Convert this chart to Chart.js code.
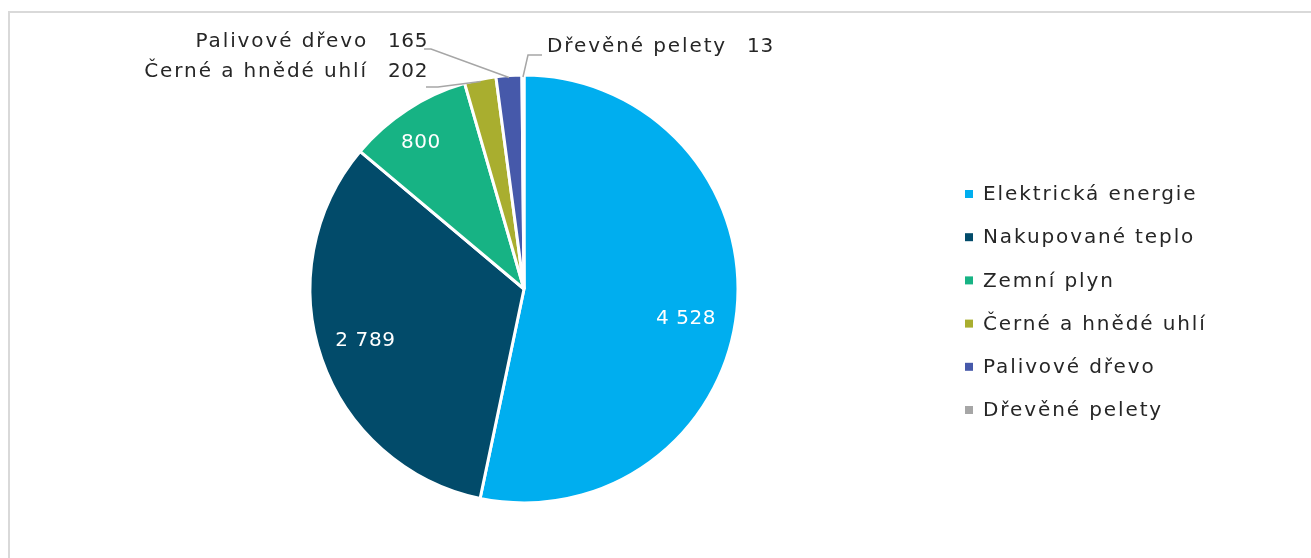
<!DOCTYPE html>
<html><head><meta charset="utf-8">
<script src="https://cdn.jsdelivr.net/npm/chart.js@4.4.1/dist/chart.umd.min.js"></script>
<style>
html,body{margin:0;padding:0;background:#fff;overflow:hidden}
#frame{position:absolute;left:8px;top:11px;width:1400px;height:600px;border-top:2px solid #d9d9d9;border-left:2px solid #d9d9d9;box-sizing:border-box}
#wrap{position:absolute;left:0;top:0;width:1311px;height:558px}
</style></head><body>
<div id="frame"></div>
<div id="wrap"><canvas id="c" width="1311" height="558"></canvas></div>
<script>
const categories = ['Elektrická energie','Nakupované teplo','Zemní plyn','Černé a hnědé uhlí','Palivové dřevo','Dřevěné pelety'];
const values = [4528, 2789, 800, 202, 165, 13];
const colors = ['#00AEEF','#024B6A','#17B384','#A9AE2F','#4659AA','#A6A6A6'];

const FONT_FAMILY = '"DejaVu Sans", sans-serif';
const FONT_SIZE = 20;
const LETTER_SPACING = '1.9px';
const TEXT_COLOR = '#262626';
const fmt = v => String(v).replace(/\B(?=(\d{3})+(?!\d))/g, ' ');

function setFont(ctx, spacing){
  ctx.font = FONT_SIZE + 'px ' + FONT_FAMILY;
  try { ctx.letterSpacing = spacing; } catch(e){}
}

// label placement (style/layout, relative to pie center)
const innerFrac = [0.77, 0.78, 0.835];
const innerShiftDeg = [4.6, 0.9, -2.2];
const outerLabels = {
  3: {tx:-96, ty:-217, align:'right', pts:[[-98,-202],[-86,-202]]},
  4: {tx:-96, ty:-247, align:'right', pts:[[-100,-240],[-93,-240]]},
  5: {tx:23, ty:-242, align:'left', pts:[[18,-234],[4,-234]]}
};

const labelPlugin = {
  id:'labels',
  afterDatasetsDraw(chart){
    const ctx = chart.ctx;
    const meta = chart.getDatasetMeta(0);
    ctx.save();
    ctx.textBaseline = 'middle';
    meta.data.forEach((arc, i) => {
      const p = arc.getProps(['x','y','startAngle','endAngle','outerRadius'], true);
      const mid = (p.startAngle + p.endAngle)/2;
      if (i < 3) {
        setFont(ctx, '0.6px');
        const r = p.outerRadius * innerFrac[i];
        const a = mid + innerShiftDeg[i]*Math.PI/180;
        ctx.fillStyle = '#ffffff';
        ctx.textAlign = 'center';
        ctx.fillText(fmt(values[i]), p.x + Math.cos(a)*r, p.y + Math.sin(a)*r);
      } else {
        const o = outerLabels[i];
        const ex = p.x + Math.cos(mid)*(p.outerRadius-2);
        const ey = p.y + Math.sin(mid)*(p.outerRadius-2);
        ctx.strokeStyle = '#A6A6A6';
        ctx.lineWidth = 1.5;
        ctx.beginPath();
        ctx.moveTo(p.x + o.pts[0][0], p.y + o.pts[0][1]);
        for (let k=1;k<o.pts.length;k++) ctx.lineTo(p.x + o.pts[k][0], p.y + o.pts[k][1]);
        ctx.lineTo(ex, ey);
        ctx.stroke();
        ctx.fillStyle = TEXT_COLOR;
        const valStr = fmt(values[i]);
        const gap = 20;
        const tx = p.x + o.tx, ty = p.y + o.ty;
        setFont(ctx, '0.6px');
        const wv = ctx.measureText(valStr).width;
        if (o.align === 'right') {
          ctx.textAlign = 'right';
          ctx.fillText(valStr, tx, ty);
          setFont(ctx, LETTER_SPACING);
          ctx.fillText(categories[i], tx - wv - gap, ty);
        } else {
          ctx.textAlign = 'left';
          setFont(ctx, LETTER_SPACING);
          ctx.fillText(categories[i], tx, ty);
          const w = ctx.measureText(categories[i]).width;
          setFont(ctx, '0.6px');
          ctx.fillText(valStr, tx + w + gap, ty);
        }
      }
    });
    // legend
    const LX = 965, LY = 194, STEP = 43.2, BOX = 8, TX = 983;
    ctx.textAlign = 'left';
    setFont(ctx, LETTER_SPACING);
    categories.forEach((c, i) => {
      const y = LY + i*STEP;
      ctx.fillStyle = colors[i];
      ctx.fillRect(LX, y - BOX/2, BOX, BOX);
      ctx.fillStyle = TEXT_COLOR;
      ctx.fillText(c, TX, y + 1);
    });
    ctx.restore();
  }
};

new Chart(document.getElementById('c'), {
  type:'pie',
  data:{
    labels: categories,
    datasets:[{
      data: values,
      backgroundColor: colors,
      borderColor:'#ffffff',
      borderWidth:3,
      hoverOffset:0,
      radius:214
    }]
  },
  options:{
    responsive:false,
    devicePixelRatio:1,
    animation:false,
    events:[],
    layout:{padding:{left:311, right:574, top:76, bottom:56}},
    plugins:{legend:{display:false}, tooltip:{enabled:false}}
  },
  plugins:[labelPlugin]
});
</script>
</body></html>
